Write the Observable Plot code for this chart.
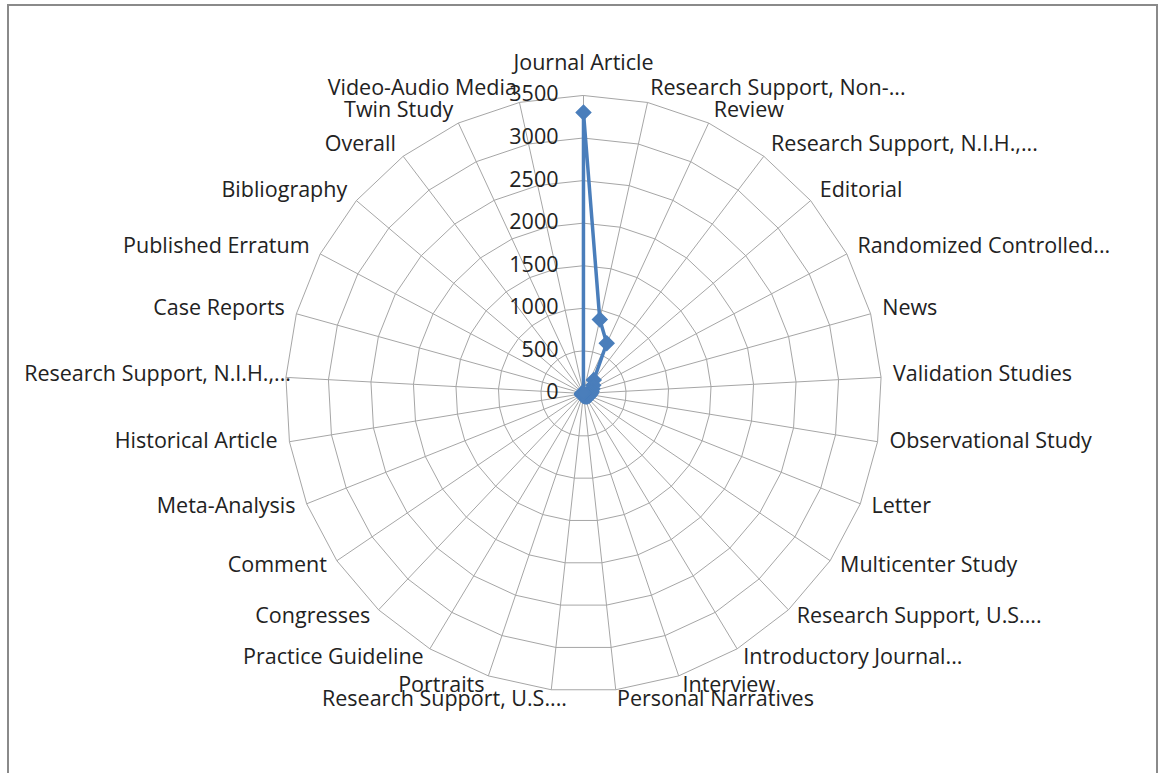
<!DOCTYPE html>
<html>
<head>
<meta charset="utf-8">
<script src="https://cdn.jsdelivr.net/npm/d3@7"></script>
<script src="https://cdn.jsdelivr.net/npm/@observablehq/plot@0.6"></script>
<style>
  html, body { margin: 0; padding: 0; overflow: hidden; background: #fff; width: 1160px; height: 773px; }
  #wrap { position: relative; width: 1160px; height: 773px; }
  #frame { position: absolute; left: 7px; top: 4px; width: 1147px; height: 800px; border: 2px solid #8a8a8a; border-bottom: none; }
  #chart { position: absolute; left: 0; top: 0; }
</style>
</head>
<body>
<div id="wrap"><div id="frame"></div><div id="chart"></div></div>
<script>
const categories = [
  "Journal Article", "Research Support, Non-...", "Review", "Research Support, N.I.H.,...",
  "Editorial", "Randomized Controlled...", "News", "Validation Studies",
  "Observational Study", "Letter", "Multicenter Study", "Research Support, U.S....",
  "Introductory Journal...", "Interview", "Personal Narratives", "Research Support, U.S....",
  "Portraits", "Practice Guideline", "Congresses", "Comment",
  "Meta-Analysis", "Historical Article", "Research Support, N.I.H.,...", "Case Reports",
  "Published Erratum", "Bibliography", "Overall", "Twin Study", "Video-Audio Media"
];
const counts = [
  3300, 890, 650, 200,
  150, 120, 100, 90,
  80, 70, 60, 50,
  40, 30, 30, 25,
  20, 20, 20, 20,
  20, 15, 15, 15,
  10, 10, 10, 5, 5
];
const ringTicks = [0, 500, 1000, 1500, 2000, 2500, 3000, 3500];

const n = categories.length;
const maxV = 3500;
const Rpx = 298;            // outer ring radius in pixels
const k = maxV / Rpx;       // data units per pixel
const cx = 583, cy = 393;   // centre in pixels
const W = 1160, H = 773;
const ang = i => i * 2 * Math.PI / n;

const series = categories.map((c, i) => ({
  cat: c, v: counts[i],
  x: counts[i] * Math.sin(ang(i)), y: counts[i] * Math.cos(ang(i))
}));

const ringPts = [];
for (const t of ringTicks.filter(t => t > 0)) {
  for (let i = 0; i < n; i++) ringPts.push({t, x: t * Math.sin(ang(i)), y: t * Math.cos(ang(i))});
}
const spokes = categories.map((c, i) => ({x2: maxV * Math.sin(ang(i)), y2: maxV * Math.cos(ang(i))}));

const labR = maxV * (Rpx + 12) / Rpx;
const labels = categories.map((c, i) => {
  const s = Math.sin(ang(i));
  const anchor = Math.abs(s) < 0.01 ? "middle" : (s > 0 ? "start" : "end");
  return {
    cat: c, x: labR * s, y: labR * Math.cos(ang(i)), anchor,
    dx: (anchor === "end" && c.endsWith("...")) ? 17 : 0,
    dy: anchor === "middle" ? -20 : -2.5
  };
});

const blue = "#4a7ebb";
const font = "'Open Sans', Lato, sans-serif";
const fs = 21.5;
const textMark = (data) => Plot.text(data, {
  x: "x", y: "y", text: "cat", textAnchor: data[0].anchor, dx: data[0].dx, dy: data[0].dy,
  fontSize: fs, fill: "#222"
});

const chart = Plot.plot({
  width: W, height: H, margin: 0,
  style: {fontFamily: font, background: "transparent", overflow: "visible"},
  x: {domain: [-cx * k, (W - cx) * k], axis: null},
  y: {domain: [-(H - cy) * k, cy * k], axis: null},
  marks: [
    Plot.line(ringPts, {x: "x", y: "y", z: "t", curve: "linear-closed", stroke: "#a6a6a6", strokeWidth: 1}),
    Plot.link(spokes, {x1: 0, y1: 0, x2: "x2", y2: "y2", stroke: "#a6a6a6", strokeWidth: 1}),
    Plot.text(ringTicks, {x: 0, y: d => d, text: d => String(d), textAnchor: "end", dx: -25, dy: -1, fontSize: fs, fill: "#222"}),
    ...labels.map(l => textMark([l])),
    Plot.line(series, {x: "x", y: "y", curve: "linear-closed", stroke: blue, strokeWidth: 3.5, strokeLinejoin: "round"}),
    Plot.dot(series, {x: "x", y: "y", symbol: "diamond2", r: 6.5, fill: blue, stroke: blue, strokeWidth: 1.5})
  ]
});
document.getElementById("chart").appendChild(chart);
</script>
</body>
</html>
